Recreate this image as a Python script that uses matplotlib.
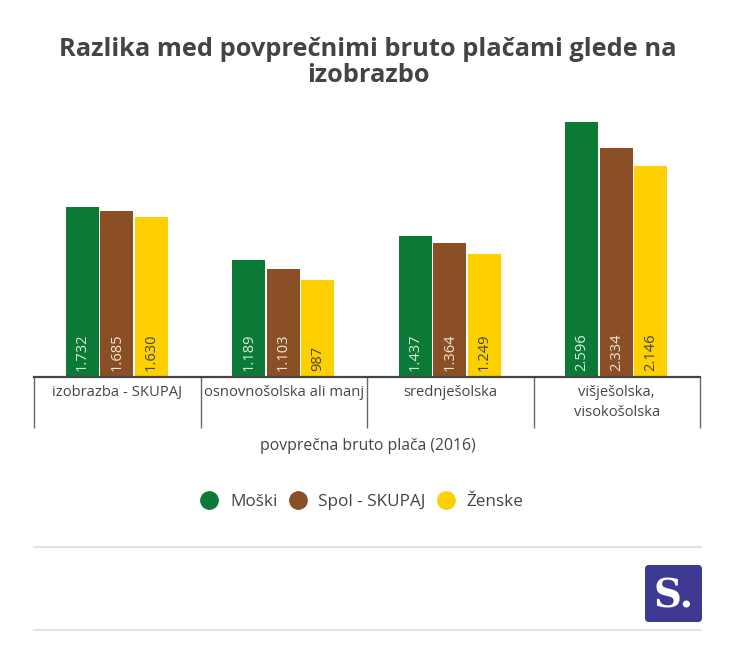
import matplotlib
matplotlib.use("Agg")
import matplotlib.pyplot as plt
from matplotlib.lines import Line2D
from matplotlib.patches import FancyBboxPatch

plt.rcParams['font.family'] = ['Open Sans', 'DejaVu Sans']

kategorije = ["izobrazba - SKUPAJ", "osnovnošolska ali manj", "srednješolska", "višješolska,\nvisokošolska"]
serije = ["Moški", "Spol - SKUPAJ", "Ženske"]
moski = [1732, 1189, 1437, 2596]
skupaj = [1685, 1103, 1364, 2334]
zenske = [1630, 987, 1249, 2146]
barve = ["#0b7a36", "#8a4f24", "#ffd000"]
barve_teksta = ["#d8efd8", "#f0e6da", "#444444"]

W, H = 736, 665
fig = plt.figure(figsize=(W / 100, H / 100), dpi=100)
# os: x 34-700 px, osnovnica pri y=377
ax = fig.add_axes([34 / W, 1 - 377 / H, 666 / W, 277 / H])
ax.set_xlim(-0.5, 3.5)
ax.set_ylim(0, 277 / 0.0983)

sirina = 0.198
korak = 0.207
for i, vrednosti in enumerate([moski, skupaj, zenske]):
    for j, v in enumerate(vrednosti):
        x = j - 0.002 + (i - 1) * korak
        ax.bar(x, v, width=sirina, color=barve[i])
        oznaka = f"{v:,}".replace(",", ".")
        ax.text(x, 58, oznaka, rotation=90, ha="center", va="bottom",
                fontsize=10.5, color=barve_teksta[i])

for s in ["top", "left", "right"]:
    ax.spines[s].set_visible(False)
ax.spines["bottom"].set_color("#444444")
ax.spines["bottom"].set_linewidth(1.6)
ax.set_yticks([])
ax.set_xticks(range(4))
ax.set_xticklabels(kategorije, fontsize=10.6, color="#444444", linespacing=1.45, va="top")
ax.tick_params(axis="x", which="major", length=0, pad=6)
ax.set_xticks([-0.5, 0.5, 1.5, 2.5, 3.5], minor=True)
ax.tick_params(axis="x", which="minor", length=37, width=1, color="#666666")

fig.text(368 / W, 1 - 50 / H, "Razlika med povprečnimi bruto plačami glede na",
         ha="center", va="center", fontsize=18.25, fontweight="bold", color="#444444")
fig.text(368 / W, 1 - 76 / H, "izobrazbo",
         ha="center", va="center", fontsize=18.25, fontweight="bold", color="#444444")
fig.text(368 / W, 1 - 446 / H, "povprečna bruto plača (2016)",
         ha="center", va="center", fontsize=11.3, color="#444444")

# legenda
roc = [Line2D([], [], marker="o", ls="", ms=12.5, color=b) for b in barve]
fig.legend(roc, serije, loc="center", bbox_to_anchor=(358 / W, 1 - 502 / H), ncol=3, frameon=False,
           fontsize=12.3, labelcolor="#444444", columnspacing=0.2, handletextpad=0.2)

# crti spodaj in logotip
for y in [547, 630]:
    fig.add_artist(Line2D([34 / W, 701 / W], [1 - y / H, 1 - y / H], color="#dddddd", lw=1.2))

logo = fig.add_axes([0, 0, 1, 1], facecolor="none")
logo.set_xlim(0, W)
logo.set_ylim(H, 0)
logo.axis("off")
logo.add_patch(FancyBboxPatch((648, 568), 51, 51, boxstyle="round,pad=3,rounding_size=4",
                              fc="#3c3a92", ec="none"))
logo.text(673.5, 596, "S.", ha="center", va="center", fontsize=28, fontweight="bold",
          family="DejaVu Serif", color="white")

fig.savefig("out.png", dpi=100)
